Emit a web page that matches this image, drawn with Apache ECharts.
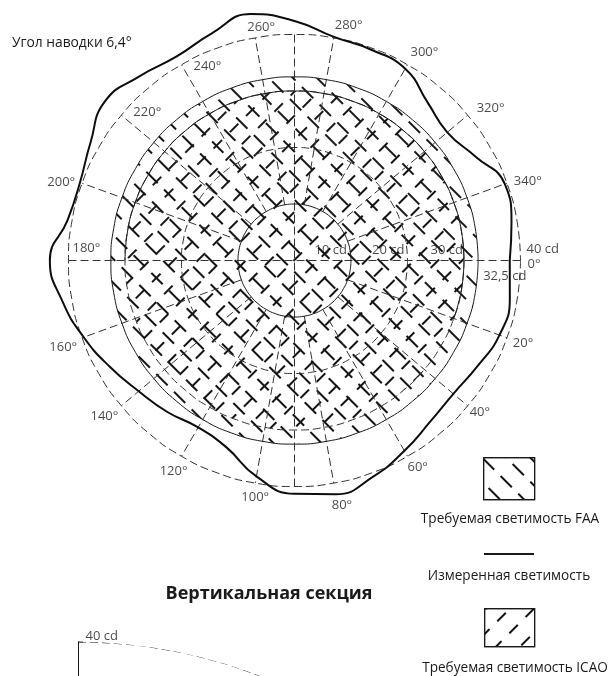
<!DOCTYPE html>
<html>
<head>
<meta charset="utf-8">
<script src="https://cdn.jsdelivr.net/npm/echarts@6/dist/echarts.min.js"></script>
<style>
  html, body { margin: 0; padding: 0; background: #fff; }
  #chart { width: 610px; height: 676px; }
</style>
</head>
<body>
<div id="chart"></div>
<script>
// polar grid ticks
var angleTicks = [0, 20, 40, 60, 80, 100, 120, 140, 160, 180, 200, 220, 240, 260, 280, 300, 320, 340];
var axisCross = [0, 180, 90, 270];
var gridRings = [20, 30, 40];
var radiusTicks = [10, 20, 30, 40, 32.5];
var radiusTickLabels = ['10 cd', '20 cd', '30 cd', '40 cd', '32,5 cd'];

// measured luminance (cd) every 10 degrees, closed at 360
var angles = [0, 10, 20, 30, 40, 50, 60, 70, 80, 90, 100, 110, 120, 130, 140, 150, 160, 170, 180,
  190, 200, 210, 220, 230, 240, 250, 260, 270, 280, 290, 300, 310, 320, 330, 340, 350, 360];
var measured = [38.1, 38.7, 38.6, 37.4, 36.7, 37.3, 38.9, 40.7, 42.0, 41.3, 38.8, 35.2, 34.1, 35.0, 36.0, 37.7, 39.7, 41.7, 43.3,
  40.8, 40.4, 41.7, 43.8, 42.6, 41.7, 42.8, 44.3, 42.4, 40.2, 39.7, 39.2, 36.6, 35.3, 36.9, 39.6, 39.0, 38.1];

// required levels (cd)
var faaLevel = 32.5;
var icaoLevel = 30;
var innerLevel = 10;
var outerLevel = 40;

// vertical section
var sectionAngles = [0, 5, 10, 15, 20, 25, 30, 35];
var sectionLevel = 40;

var ink = '#1a1a1a';
var font = '"Open Sans", "Noto Sans", sans-serif';
var dash = [8, 4];

// label placement around the 40 cd ring: [align, dx, dy]
var anglePlace = [
  ['left', 7, 4], ['left', 6, 6], ['left', 2, 7], ['left', 0, 11], ['left', -2, 22], ['center', 0, 14],
  ['right', 6, 15], ['right', -3, 11], ['right', -5, 10], ['left', 4, -12], ['right', -7, -1], ['left', 12, -3],
  ['left', 12, 2], ['left', -8, -11], ['left', 1, -13], ['left', 3, -12], ['left', 9, -7], ['left', 7, -2]
];
var radiusPlace = [['right', -4, -10], ['right', -3, -10], ['right', -1, -10], ['left', 6, -11], ['left', 5, 16]];

function hatch(rot, len, gap) {
  return {
    symbol: 'rect', symbolSize: 1, color: '#151515',
    dashArrayX: [[len, gap]], dashArrayY: [1.1, 15], rotation: rot
  };
}
var faaDecal = hatch(Math.PI / 4, 16, 9);
var icaoDecal = hatch(-Math.PI / 4, 12, 11);

function ring(level, list) {
  return list.map(function (a) { return a === null ? '-' : [level, a]; });
}

var icaoArc = angles.filter(function (a) { return a >= 180; }).concat([null, 0, 10, 20]);

// spokes run from the 10 cd circle out to 40 cd; the two main axes cross the centre
var spokes = [];
angleTicks.forEach(function (a) {
  if (axisCross.indexOf(a) < 0) spokes.push([innerLevel, a], [outerLevel, a], '-');
});
spokes.push([outerLevel, axisCross[0]], [outerLevel, axisCross[1]], '-', [outerLevel, axisCross[2]], [outerLevel, axisCross[3]]);

var dashedRings = [];
gridRings.forEach(function (r) {
  dashedRings = dashedRings.concat(ring(r, angles), ['-']);
});

var chart = echarts.init(document.getElementById('chart'), null, { renderer: 'canvas' });

function flat(extra) {
  var s = { type: 'line', coordinateSystem: 'polar', polarIndex: 0, symbol: 'none', silent: true, clip: false };
  for (var k in extra) s[k] = extra[k];
  return s;
}

var option = {
  backgroundColor: '#fff',
  animation: false,
  textStyle: { fontFamily: font },
  polar: [
    // radius axis runs to 45 cd so the measured curve above 40 cd stays inside the polar area
    { center: [294.5, 260.5], radius: 254.25 },
    { center: [78, 1146], radius: 504 }
  ],
  angleAxis: [
    {
      polarIndex: 0, type: 'value', min: 0, max: 360, interval: 20,
      startAngle: 0, clockwise: true,
      axisLine: { show: false }, axisTick: { show: false }, axisLabel: { show: false },
      splitLine: { show: false }
    },
    {
      polarIndex: 1, type: 'value', min: 0, max: 360, startAngle: 90, clockwise: true,
      axisLine: { show: false }, axisTick: { show: false }, axisLabel: { show: false }, splitLine: { show: false }
    }
  ],
  radiusAxis: [
    {
      polarIndex: 0, type: 'value', min: 0, max: 45, interval: 5,
      axisLine: { show: false }, axisTick: { show: false }, axisLabel: { show: false },
      splitLine: { show: false }
    },
    {
      polarIndex: 1, type: 'value', min: 0, max: 40, interval: 40,
      axisLine: { show: true, lineStyle: { color: ink, width: 1 } },
      axisTick: { show: false }, axisLabel: { show: false }, splitLine: { show: false }
    }
  ],
  legend: [
    {
      data: ['Требуемая светимость FAA'], left: 483, top: 457, padding: 0,
      itemWidth: 51, itemHeight: 42, icon: 'rect', selectedMode: false,
      formatter: function () { return ''; },
      itemStyle: { color: '#fff', borderColor: ink, borderWidth: 1.2, decal: 'inherit' }
    },
    {
      data: ['Измеренная светимость'], left: 484, top: 553, padding: 0,
      itemWidth: 50, itemHeight: 2, icon: 'rect', selectedMode: false,
      formatter: function () { return ''; },
      itemStyle: { color: ink, borderWidth: 0 }
    },
    {
      data: ['Требуемая светимость ICAO'], left: 484, top: 608, padding: 0,
      itemWidth: 50, itemHeight: 38, icon: 'rect', selectedMode: false,
      formatter: function () { return ''; },
      itemStyle: { color: '#fff', borderColor: ink, borderWidth: 1.2, decal: 'inherit' }
    }
  ],
  graphic: [
    { type: 'text', x: 12, y: 43, style: { text: 'Угол наводки 6,4°', fontSize: 13.8, fontFamily: font, fill: ink, verticalAlign: 'middle' } },
    { type: 'text', x: 510, y: 519, style: { text: 'Требуемая светимость FAA', fontSize: 13.6, fontFamily: font, fill: ink, align: 'center', verticalAlign: 'middle' } },
    { type: 'text', x: 509, y: 576, style: { text: 'Измеренная светимость', fontSize: 13.6, fontFamily: font, fill: ink, align: 'center', verticalAlign: 'middle' } },
    { type: 'text', x: 515, y: 668, style: { text: 'Требуемая светимость ICAO', fontSize: 13.6, fontFamily: font, fill: ink, align: 'center', verticalAlign: 'middle' } },
    { type: 'text', x: 269, y: 594, style: { text: 'Вертикальная секция', fontSize: 18, fontWeight: 'bold', fontFamily: font, fill: ink, align: 'center', verticalAlign: 'middle' } }
  ],
  series: [
    flat({
      name: 'Требуемая светимость FAA', data: ring(faaLevel, angles), smooth: true, z: 1,
      lineStyle: { color: ink, width: 1, decal: faaDecal },
      itemStyle: { color: ink, decal: faaDecal },
      areaStyle: { color: 'rgba(255,255,255,0)', opacity: 1 }
    }),
    flat({
      name: 'Требуемая светимость ICAO', data: ring(icaoLevel, angles), smooth: true, z: 1,
      lineStyle: { color: ink, width: 0, decal: icaoDecal },
      itemStyle: { color: ink, decal: icaoDecal },
      areaStyle: { color: 'rgba(255,255,255,0)', opacity: 1 }
    }),
    flat({ data: spokes, z: 1, lineStyle: { color: '#333', width: 1, type: dash } }),
    flat({ data: dashedRings, smooth: true, z: 1, lineStyle: { color: '#333', width: 1, type: dash } }),
    flat({ data: ring(icaoLevel, icaoArc), smooth: true, z: 2, lineStyle: { color: ink, width: 1 } }),
    flat({ data: ring(innerLevel, angles), smooth: true, z: 2, lineStyle: { color: ink, width: 1 } }),
    flat({
      name: 'Измеренная светимость',
      data: measured.map(function (v, i) { return [v, angles[i]]; }),
      smooth: true, z: 3,
      lineStyle: { color: '#0d0d0d', width: 2 }, itemStyle: { color: '#0d0d0d' }
    }),
    {
      type: 'scatter', coordinateSystem: 'polar', polarIndex: 0, symbolSize: 0, silent: true, z: 4,
      data: angleTicks.map(function (a, i) {
        var p = anglePlace[i];
        return { value: [outerLevel, a], label: { align: p[0], offset: [p[1], p[2]] } };
      }),
      label: {
        show: true, position: 'inside', verticalAlign: 'middle', color: ink, fontSize: 13, fontFamily: font,
        formatter: function (d) { return d.value[1] + '°'; }
      }
    },
    {
      type: 'scatter', coordinateSystem: 'polar', polarIndex: 0, symbolSize: 0, silent: true, z: 4,
      data: radiusTicks.map(function (r, i) {
        var p = radiusPlace[i];
        return { value: [r, 0], label: { align: p[0], offset: [p[1], p[2]] } };
      }),
      label: {
        show: true, position: 'inside', verticalAlign: 'middle', color: ink, fontSize: 13, fontFamily: font,
        formatter: function (d) { return radiusTickLabels[d.dataIndex]; }
      }
    },
    {
      type: 'line', coordinateSystem: 'polar', polarIndex: 1,
      data: ring(sectionLevel, sectionAngles), smooth: true, symbol: 'none', silent: true,
      lineStyle: { color: ink, width: 1, type: dash }
    },
    {
      // tick mark and label at the top of the vertical-section radius axis
      type: 'scatter', coordinateSystem: 'polar', polarIndex: 1, silent: true,
      data: [[sectionLevel, 0]], symbol: 'rect', symbolSize: [5, 1], symbolOffset: [2.5, 0],
      itemStyle: { color: ink },
      label: {
        show: true, position: 'inside', align: 'left', verticalAlign: 'middle', offset: [5, -6],
        color: ink, fontSize: 13, fontFamily: font, formatter: sectionLevel + ' cd'
      }
    }
  ]
};

chart.setOption(option);
</script>
</body>
</html>
